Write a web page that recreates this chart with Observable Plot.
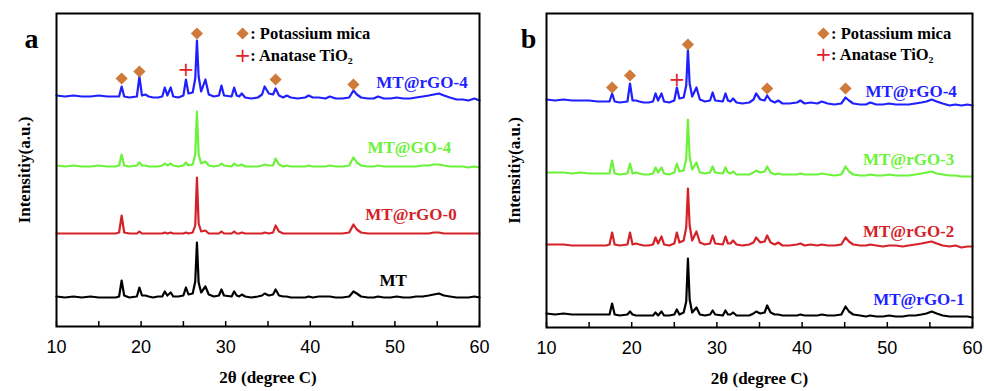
<!DOCTYPE html>
<html>
<head>
<meta charset="utf-8">
<script src="https://cdn.jsdelivr.net/npm/d3@7"></script>
<script src="https://cdn.jsdelivr.net/npm/@observablehq/plot@0.6"></script>
<style>
  html, body { margin: 0; padding: 0; background: #fff; }
  #wrap { display: flex; width: 984px; height: 391px; overflow: hidden; }
  #wrap svg { display: block; }
</style>
</head>
<body>
<div id="wrap"></div>
<script>
// ---- 2θ sampling positions (degrees) ----
const grid = [
  10, 11, 12, 13, 14, 15, 16, 17, 17.4, 17.7,
  18.0, 18.6, 19.5, 19.8, 20.1, 20.5, 20.9, 21.4, 22.0, 22.5,
  22.8, 23.1, 23.5, 23.8, 24.4, 25.0, 25.3, 25.6, 26.1, 26.4,
  26.6, 26.8, 27.1, 27.6, 28.0, 28.6, 29.2, 29.5, 29.8, 30.7,
  31.0, 31.3, 31.6, 31.9, 32.3, 33.0, 33.8, 34.3, 34.6, 35.1,
  35.6, 35.9, 36.3, 36.8, 37.2, 37.7, 38.5, 39.4, 39.8, 40.3,
  41.0, 41.8, 42.3, 43.0, 43.8, 44.6, 45.1, 45.5, 46.0, 46.8,
  47.5, 48.0, 48.7, 49.5, 50.2, 51.0, 51.8, 52.5, 53.3, 54.0,
  54.6, 55.2, 55.8, 56.5, 57.3, 58.0, 58.7, 59.4, 60
];

// ---- panel a intensities (a.u., above each trace's own baseline) ----
const aRGO4 = [
  3, 2, 3, 2, 2, 3, 2, 2, 2, 12,
  2, 1, 2, 22, 3, 4, 2, 1, 1, 2,
  11, 3, 11, 2, 1, 3, 19, 5, 6, 20,
  58, 22, 7, 19, 4, 2, 3, 13, 3, 2,
  11, 3, 2, 5, 1, 0, 1, 4, 12, 5,
  4, 10, 3, 1, 3, 1, 0, 1, 3, 1,
  1, 0, 2, 0, 0, 1, 8, 4, 1, 0,
  0, 2, 0, 0, 1, 0, 0, 1, 2, 3,
  4, 5, 3, 1, -1, -1, -2, 0, -2
];
const aGO4 = [
  1, 0, 1, 0, 0, 1, 0, 0, 1, 12,
  1, 0, 1, 4, 1, 1, 0, 0, 0, 1,
  3, 1, 3, 1, 0, 1, 4, 1, 2, 12,
  55, 12, 3, 5, 1, 0, 1, 3, 1, 0,
  3, 1, 1, 2, 0, 0, 0, 1, 2, 1,
  1, 8, 2, 0, 1, 0, 0, 0, 1, 0,
  0, 0, 1, 0, 0, 1, 9, 4, 1, 0,
  0, 1, 0, 0, 0, 0, 0, 0, 1, 1,
  2, 2, 1, 0, 0, 0, -1, 0, -1
];
const aRGO0 = [
  0, 0, 0, 0, 0, 0, 0, 0, 1, 18,
  1, 0, 0, 2, 0, 0, 0, 0, 0, 0,
  1, 0, 1, 0, 0, 0, 1, 0, 1, 8,
  56, 10, 2, 3, 0, 0, 0, 2, 0, 0,
  2, 0, 0, 1, 0, 0, 0, 0, 1, 0,
  1, 8, 2, 0, 0, 0, 0, 0, 0, 0,
  0, 0, 0, 0, 0, 1, 9, 4, 1, 0,
  0, 0, 0, 0, 0, 0, 0, 0, 0, 0,
  1, 1, 0, 0, 0, 0, 0, 0, 0
];
const aMT = [
  1, 0, 1, 0, 1, 0, 0, 0, 1, 17,
  2, 0, 1, 10, 2, 2, 1, 0, 1, 1,
  6, 2, 5, 1, 1, 2, 10, 3, 4, 16,
  55, 15, 5, 11, 3, 1, 2, 8, 2, 1,
  6, 2, 1, 3, 1, 0, 1, 2, 4, 2,
  3, 8, 2, 1, 1, 0, 0, 0, 1, 0,
  1, 1, 1, 0, 0, 1, 6, 4, 1, 0,
  0, 1, 0, 0, 1, 0, 0, 1, 1, 2,
  3, 4, 2, 1, 0, 0, 0, 1, 0
];

// ---- panel b intensities ----
const bRGO4 = [
  4, 3, 4, 3, 3, 3, 2, 2, 2, 10,
  2, 1, 2, 20, 3, 3, 2, 1, 1, 2,
  10, 3, 10, 2, 1, 3, 16, 5, 6, 18,
  54, 20, 7, 16, 4, 2, 3, 11, 3, 2,
  10, 3, 2, 5, 1, 0, 1, 4, 10, 4,
  3, 8, 3, 1, 3, 0, 0, 1, 3, 0,
  1, 0, 2, 0, -1, 0, 6, 3, 0, -1,
  -1, 1, -1, -1, 0, -1, -1, -1, 0, 1,
  2, 4, 2, 0, -2, -1, -2, -1, -2
];
const bRGO3 = [
  2, 2, 2, 1, 2, 1, 1, 1, 1, 14,
  1, 0, 1, 11, 1, 2, 1, 0, 0, 1,
  7, 2, 7, 1, 0, 2, 11, 3, 4, 16,
  55, 18, 5, 12, 2, 1, 2, 8, 2, 1,
  7, 2, 1, 3, 0, 0, 0, 2, 4, 2,
  3, 8, 2, 0, 1, 0, 0, 0, 1, 0,
  0, 0, 1, 0, -1, 0, 8, 3, 0, -1,
  -1, 0, -1, -1, 0, -1, -1, -1, 0, 1,
  2, 3, 1, 0, -1, -1, -2, -2, -2
];
const bRGO2 = [
  1, 1, 1, 0, 0, 0, 0, 0, 1, 13,
  1, 0, 1, 13, 1, 2, 1, 0, 0, 1,
  8, 2, 9, 1, 0, 2, 13, 3, 5, 18,
  57, 20, 5, 14, 3, 1, 2, 10, 2, 1,
  9, 2, 2, 5, 1, 0, 1, 3, 8, 3,
  4, 10, 3, 1, 3, 0, 0, 1, 2, 0,
  1, 0, 1, 0, 0, 1, 8, 4, 1, 0,
  0, 1, 0, -1, 0, 0, -1, 0, 1, 2,
  3, 4, 2, 0, -1, 0, -2, -1, -1
];
const bRGO1 = [
  2, 1, 2, 1, 1, 1, 1, 1, 1, 12,
  1, 0, 1, 4, 1, 0, 0, 0, 0, 0,
  3, 0, 4, 0, 0, 1, 6, 1, 3, 14,
  57, 16, 3, 8, 1, 0, 1, 5, 1, 0,
  5, 1, 1, 3, 0, 0, 0, 2, 4, 2,
  3, 10, 3, 1, 1, 0, 0, 0, 1, 0,
  0, 0, 1, 0, 0, 1, 9, 4, 1, 0,
  -1, 0, -1, -1, 0, -1, -1, 0, 0, 1,
  2, 4, 2, 0, -1, -1, -1, -1, -2
];

// ---- series names, colours, vertical stacking offsets ----
const aNames   = ["MT@rGO-4", "MT@GO-4", "MT@rGO-0", "MT"];
const aValues  = [aRGO4, aGO4, aRGO0, aMT];
const aColors  = ["#1f1fff", "#6cf23a", "#d42228", "#000000"];
const aOffsets = [228, 160, 93, 29];
const aLabelX  = [53.2, 51.7, 51.9, 49.8];
const aLabelY  = [244, 179, 112, 46];
const aLabelColors = ["#1f1fff", "#6cf23a", "#d42228", "#000000"];

const bNames   = ["MT@rGO-4", "MT@rGO-3", "MT@rGO-2", "MT@rGO-1"];
const bValues  = [bRGO4, bRGO3, bRGO2, bRGO1];
const bColors  = ["#1f1fff", "#6cf23a", "#d42228", "#000000"];
const bOffsets = [224, 153, 82, 12];
const bLabelX  = [52.8, 52.5, 52.5, 53.7];
const bLabelY  = [236, 168, 96, 28];
const bLabelColors = ["#1f1fff", "#6cf23a", "#d42228", "#1f1fff"];

// phase markers (2θ of peak, height in plot units)
const micaPeaks = [17.7, 19.8, 26.6, 35.9, 45.1];
const aMicaY = [248, 255, 293, 247, 242];
const bMicaY = [240, 252, 283, 239, 239];
const tioPeaks = [25.3];
const aTioY = [257];
const bTioY = [248];

const legendTexts = [": Potassium mica", ": Anatase TiO\u2082"];
const aLegend = {x: 32.0, y: [293, 271]};
const bLegend = {x: 42.5, y: [294, 273]};

const xTickLabels = [10, 20, 30, 40, 50, 60];
const xTickMarks = [10, 15, 20, 25, 30, 35, 40, 45, 50, 55, 60];

const SERIF = "'Liberation Serif','Times New Roman',serif";
const SANS = "'Liberation Sans',Arial,sans-serif";

function panel(cfg) {
  const rows = [];
  cfg.values.forEach((vals, s) => {
    vals.forEach((v, i) => rows.push({x: grid[i], y: cfg.offsets[s] + v, s: cfg.names[s] + s, c: cfg.colors[s]}));
  });
  const labels = cfg.names.map((n, i) => ({x: cfg.labelX[i], y: cfg.labelY[i], t: n, c: cfg.labelColors[i]}));
  const mica = micaPeaks.map((p, i) => ({x: p, y: cfg.micaY[i]}));
  const tio = tioPeaks.map((p, i) => ({x: p, y: cfg.tioY[i]}));
  return Plot.plot({
    width: 492, height: 391,
    marginLeft: cfg.ml, marginRight: cfg.mr, marginTop: 13, marginBottom: cfg.mb,
    x: {domain: [10, 60]},
    y: {domain: [0, cfg.ymax], axis: null},
    color: {type: "identity"},
    style: {background: "#fff", overflow: "visible"},
    marks: [
      Plot.line(rows, {x: "x", y: "y", z: "s", stroke: "c", strokeWidth: 2.2, strokeLinejoin: "round"}),
      Plot.ruleX(xTickMarks, {x: d => d, y1: 0, y2: 5, stroke: "#000", strokeWidth: 1.5}),
      Plot.frame({stroke: "#000", strokeWidth: 2}),
      Plot.axisX(xTickLabels, {tickSize: 0, tickPadding: 14, fontSize: 18, fontFamily: SANS, label: null, fill: "#000"}),
      Plot.text(["2\u03b8 (degree C)"], {frameAnchor: "bottom", dy: 56, fontSize: 17, fontWeight: "bold", fontFamily: SERIF, fill: "#000"}),
      Plot.text(["Intensitiy(a.u.)"], {frameAnchor: "left", textAnchor: "middle", rotate: -90, dx: -32, fontSize: 17, fontWeight: "bold", fontFamily: SERIF, fill: "#000"}),
      Plot.text([cfg.letter], {frameAnchor: "top-left", dx: cfg.letterDx, dy: 15, fontSize: 28, fontWeight: "bold", fontFamily: SERIF, fill: "#000", textAnchor: "middle"}),
      Plot.text(labels, {x: "x", y: "y", text: "t", fill: "c", fontSize: 17, fontWeight: "bold", fontFamily: SERIF}),
      Plot.dot(mica, {x: "x", y: "y", symbol: "diamond2", r: 5.5, fill: "#cf7a3a", stroke: "none"}),
      Plot.text(tio, {x: "x", y: "y", text: d => "+", fontSize: 20, fill: "#e2222a", fontFamily: "'DejaVu Sans',sans-serif"}),
      Plot.dot([{x: cfg.legend.x, y: cfg.legend.y[0]}], {x: "x", y: "y", symbol: "diamond2", r: 5.5, fill: "#cf7a3a", stroke: "none"}),
      Plot.text([{x: cfg.legend.x, y: cfg.legend.y[1]}], {x: "x", y: "y", text: d => "+", fontSize: 20, fill: "#e2222a", fontFamily: "'DejaVu Sans',sans-serif"}),
      Plot.text(legendTexts.map((t, i) => ({x: cfg.legend.x + 0.9, y: cfg.legend.y[i], t})), {x: "x", y: "y", text: "t", textAnchor: "start", fontSize: 16.5, fontWeight: "bold", fontFamily: SERIF, fill: "#000"})
    ]
  });
}

const wrap = document.getElementById("wrap");
wrap.appendChild(panel({
  names: aNames, values: aValues, colors: aColors, offsets: aOffsets,
  labelX: aLabelX, labelY: aLabelY, labelColors: aLabelColors,
  micaY: aMicaY, tioY: aTioY, legend: aLegend,
  ml: 56, mr: 13, mb: 65, ymax: 313, letter: "a", letterDx: -25
}));
wrap.appendChild(panel({
  names: bNames, values: bValues, colors: bColors, offsets: bOffsets,
  labelX: bLabelX, labelY: bLabelY, labelColors: bLabelColors,
  micaY: bMicaY, tioY: bTioY, legend: bLegend,
  ml: 54, mr: 12, mb: 64, ymax: 314, letter: "b", letterDx: -18
}));
</script>
</body>
</html>
